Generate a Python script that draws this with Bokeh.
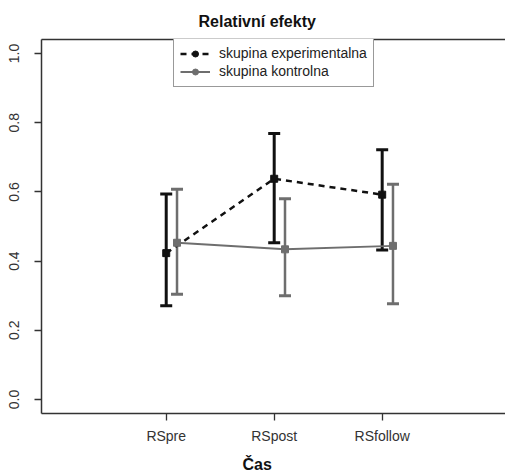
from bokeh.plotting import figure
from bokeh.models import (Range1d, FixedTicker, Whisker, TeeHead, ColumnDataSource,
                          Legend, LegendItem, Title, LinearAxis)
from bokeh.embed import file_html
from bokeh.resources import INLINE

# ---- data ----
categories = ["RSpre", "RSpost", "RSfollow"]
exp_mean = [0.423, 0.638, 0.592]
exp_upper = [0.594, 0.769, 0.722]
exp_lower = [0.271, 0.453, 0.432]
ctrl_mean = [0.453, 0.434, 0.444]
ctrl_upper = [0.608, 0.580, 0.622]
ctrl_lower = [0.304, 0.300, 0.277]
y_ticks = [0.0, 0.2, 0.4, 0.6, 0.8, 1.0]
title_text = "Relativní efekty"
xlab_text = "Čas"
legend_labels = ["skupina experimentalna", "skupina kontrolna"]

FONT = "Liberation Sans"
BLACK = "#111111"
GRAY = "#6e6e6e"
AXC = "#333333"

pos = [i + 1 for i in range(len(categories))]
shift = 0.1
x_exp = pos
x_ctrl = [p_ + shift for p_ in pos]

p = figure(width=505, height=480, output_backend="svg", toolbar_location=None,
           x_range=Range1d(-0.155, 4.142), y_range=Range1d(-0.0405, 1.0405),
           min_border_left=41, min_border_right=0, min_border_top=39, min_border_bottom=67)
p.background_fill_color = "white"
p.border_fill_color = "white"
p.outline_line_color = None
p.xgrid.visible = False
p.ygrid.visible = False

for ax in (p.xaxis[0], p.yaxis[0]):
    ax.axis_line_color = AXC
    ax.axis_line_width = 1.5
    ax.major_tick_out = 7
    ax.major_tick_in = 0
    ax.minor_tick_out = 0
    ax.minor_tick_in = 0
    ax.major_tick_line_color = AXC
    ax.major_tick_line_width = 1.3
    ax.major_label_text_font = FONT
    ax.major_label_text_font_size = "14px"
    ax.major_label_text_color = "#333333"

p.xaxis.ticker = FixedTicker(ticks=pos)
p.xaxis.major_label_overrides = {p_: c for p_, c in zip(pos, categories)}
p.xaxis.major_label_standoff = 7
p.yaxis.ticker = FixedTicker(ticks=y_ticks)
p.yaxis.major_label_overrides = {t: f"{t:.1f}" for t in y_ticks}
p.yaxis.major_label_orientation = "vertical"
p.yaxis.major_label_standoff = 15

# top line of the box (axis without ticks/labels)
top_axis = LinearAxis(ticker=FixedTicker(ticks=[]), axis_line_color=AXC, axis_line_width=1.5,
                      major_tick_out=0, major_tick_in=0, minor_tick_out=0, minor_tick_in=0,
                      major_label_standoff=0, major_label_text_font_size="0px")
p.add_layout(top_axis, "above")

# titles (top and bottom)
p.add_layout(Title(text=title_text, text_font=FONT, text_font_size="16px",
                   text_font_style="bold", text_color="#111111",
                   align="left", offset=157, standoff=20), "above")
p.add_layout(Title(text=xlab_text, text_font=FONT, text_font_size="16px",
                   text_font_style="bold", text_color="#111111",
                   align="left", offset=201, standoff=14), "below")

src_e = ColumnDataSource(dict(x=x_exp, y=exp_mean, up=exp_upper, lo=exp_lower))
src_c = ColumnDataSource(dict(x=x_ctrl, y=ctrl_mean, up=ctrl_upper, lo=ctrl_lower))

# error bars
p.add_layout(Whisker(source=src_e, base="x", upper="up", lower="lo", dimension="height",
                     line_color=BLACK, line_width=3,
                     upper_head=TeeHead(size=12, line_color=BLACK, line_width=3),
                     lower_head=TeeHead(size=12, line_color=BLACK, line_width=3)))
p.add_layout(Whisker(source=src_c, base="x", upper="up", lower="lo", dimension="height",
                     line_color=GRAY, line_width=2.5,
                     upper_head=TeeHead(size=12, line_color=GRAY, line_width=3),
                     lower_head=TeeHead(size=12, line_color=GRAY, line_width=3)))

# lines
l_e = p.line("x", "y", source=src_e, line_color=BLACK, line_width=2.5, line_dash="6 5")
l_c = p.line("x", "y", source=src_c, line_color=GRAY, line_width=2)
p.scatter("x", "y", source=src_e, marker="square", size=7, fill_color=BLACK, line_color=BLACK)
p.scatter("x", "y", source=src_c, marker="square", size=7, fill_color=GRAY, line_color=GRAY)

# legend-only markers (not shown in the plot area)
nan = float("nan")
legend_src = ColumnDataSource(dict(x=[nan], y=[nan]))
m_e = p.scatter("x", "y", source=legend_src, marker="circle", size=8, fill_color=BLACK, line_color=BLACK)
m_c = p.scatter("x", "y", source=legend_src, marker="circle", size=6, fill_color=GRAY, line_color=GRAY)

legend = Legend(items=[LegendItem(label=legend_labels[0], renderers=[l_e, m_e]),
                       LegendItem(label=legend_labels[1], renderers=[l_c, m_c])],
                location=(132, 326), orientation="vertical",
                border_line_color=AXC, border_line_width=1.5,
                background_fill_color="white", background_fill_alpha=1.0,
                label_text_font=FONT, label_text_font_size="14px", label_text_color="#222222",
                glyph_width=30, glyph_height=15, label_height=18, label_standoff=9,
                padding=6, spacing=0, margin=0)
p.add_layout(legend, "center")

open("out.html", "w").write(file_html(p, INLINE))
